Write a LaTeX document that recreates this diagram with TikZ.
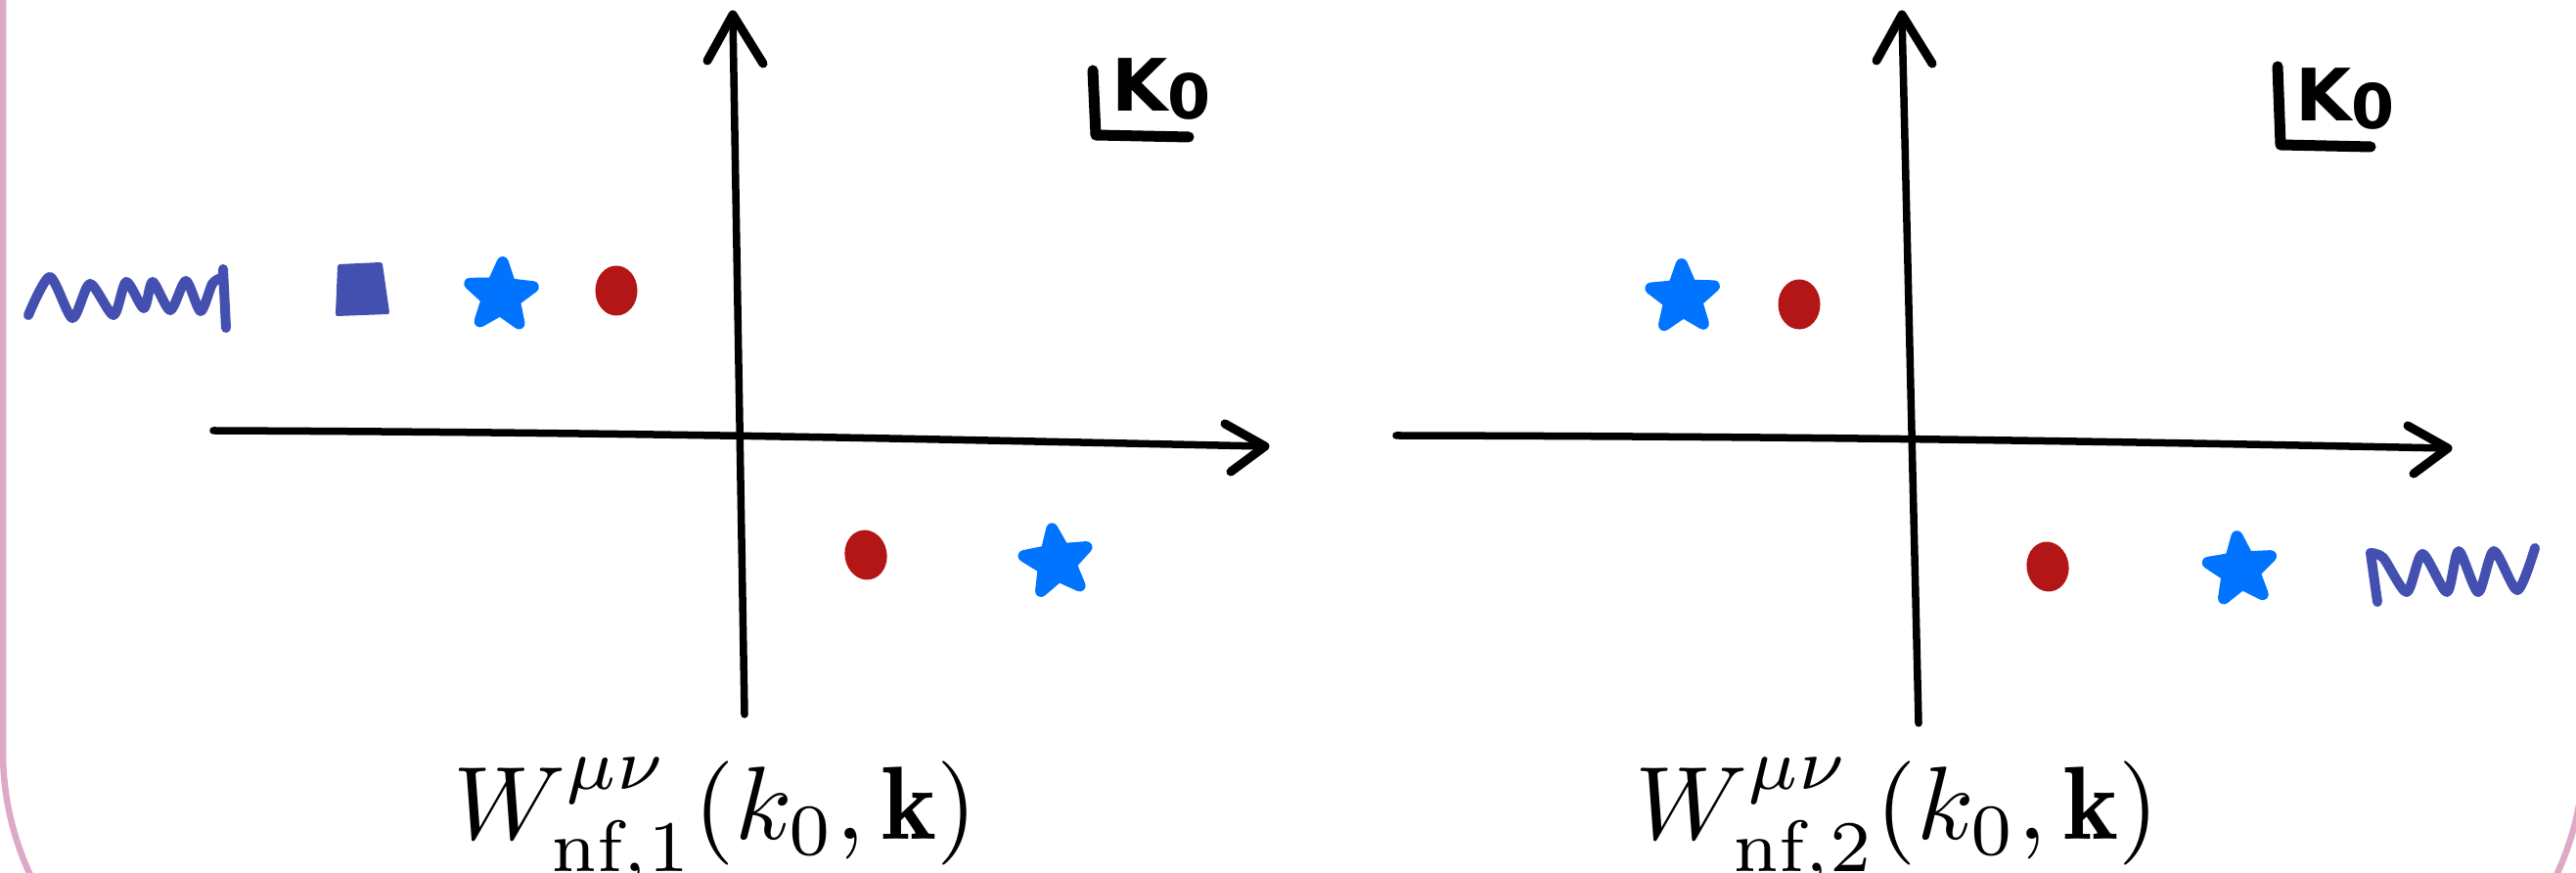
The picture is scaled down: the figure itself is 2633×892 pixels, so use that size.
\documentclass[tikz,border=0pt]{standalone}
\usepackage{fontspec}
\newfontfamily\handfont{DejaVu Sans}
\usetikzlibrary{shapes.geometric}
\definecolor{wavy}{RGB}{68,80,176}
\definecolor{starblue}{RGB}{0,115,255}
\definecolor{dotred}{RGB}{179,22,22}
\definecolor{framepink}{RGB}{220,170,200}
\tikzset{
  axisline/.style={line width=0.075cm, line cap=round, line join=round},
  barb/.style={line width=0.09cm, line cap=round, line join=round},
  wave/.style={wavy, line width=0.1cm, line cap=round, line join=round},
  bstar/.style={star, star points=5, star point ratio=2.3, minimum size=0.68cm, inner sep=0pt,
    fill=starblue, draw=starblue, line width=0.12cm, line join=round},
  rdot/.style={ellipse, fill=dotred, inner sep=0pt, minimum width=0.43cm, minimum height=0.51cm},
  kline/.style={line width=0.11cm, line cap=round, line join=round},
  klabel/.style={anchor=base west, inner sep=0pt, font=\handfont\bfseries\fontsize{21}{21}\selectfont},
  wlabel/.style={anchor=base, inner sep=0pt}
}
\begin{document}
\begin{tikzpicture}[x=0.01cm,y=-0.01cm]
\useasboundingbox (0,0) rectangle (2633,892);
\clip (0,0) rectangle (2633,892);
% frame
\draw[framepink, line width=0.065cm, rounded corners=2.98cm] (3,-400) rectangle (2641,1066);

% ---------- left panel ----------
\coordinate (ly-top) at (749,15);
\coordinate (ly-bot) at (761,730);
\coordinate (ly-b1) at (723,62);
\coordinate (ly-b2) at (780,65);
\draw[axisline] (ly-bot) -- (ly-top);
\draw[barb] (ly-b1) -- (ly-top) -- (ly-b2);
\coordinate (lx-left) at (218,440);
\coordinate (lx-tip) at (1293,456);
\coordinate (lx-b1) at (1252,433);
\coordinate (lx-b2) at (1258,482);
\draw[axisline] (lx-left) .. controls (700,442) and (1000,450) .. (lx-tip);
\draw[barb] (lx-b1) -- (lx-tip) -- (lx-b2);

% wiggle + tick
\draw[wave] plot[smooth, tension=0.45] coordinates {(29,322) (51,283) (74,325) (92,290) (116,322) (129,288) (147,315) (156,288) (174,317) (190,287) (205,318) (217,290) (226,284)};
\coordinate (lt-top) at (228,275);
\coordinate (lt-bot) at (231,335);
\draw[wave] (lt-top) -- (lt-bot);
% square
\filldraw[wavy, line width=0.04cm, line join=round] (347,272) -- (389,270) -- (396,319) -- (345,321) -- cycle;
% star, dots
\node[bstar, rotate=-3] (ls1) at (512,302) {};
\node[rdot] (ld1) at (630,297) {};
\node[rdot, rotate=10] (ld2) at (885,567) {};
\node[bstar, rotate=8] (ls2) at (1080,574) {};

% k0 label
\coordinate (lk-a) at (1117,72);
\coordinate (lk-b) at (1120,138);
\coordinate (lk-c) at (1215,140);
\draw[kline] (lk-a) -- (lk-b) -- (lk-c);
\node[klabel] (lk) at (1136,114) {K\raisebox{-0.1em}{\fontsize{18}{18}\selectfont 0}};

\node[wlabel] (lab1) at (731,858) {\scalebox{3.02}{$W^{\mu\nu}_{\mathrm{nf},1}(k_0,\mathbf{k})$}};

% ---------- right panel ----------
\coordinate (ry-top) at (1944,15);
\coordinate (ry-bot) at (1961,739);
\coordinate (ry-b1) at (1918,62);
\coordinate (ry-b2) at (1975,65);
\draw[axisline] (ry-bot) -- (ry-top);
\draw[barb] (ry-b1) -- (ry-top) -- (ry-b2);
\coordinate (rx-left) at (1427,445);
\coordinate (rx-tip) at (2502,458);
\coordinate (rx-b1) at (2461,435);
\coordinate (rx-b2) at (2467,484);
\draw[axisline] (rx-left) .. controls (1900,446) and (2200,452) .. (rx-tip);
\draw[barb] (rx-b1) -- (rx-tip) -- (rx-b2);

\node[bstar, rotate=2] (rs1) at (1720,304) {};
\node[rdot] (rd1) at (1839,311) {};
\node[rdot, rotate=8] (rd2) at (2093,579) {};
\node[bstar, rotate=6] (rs2) at (2290,582) {};

% wiggle right
\coordinate (rt-bot) at (2430,615);
\coordinate (rt-top) at (2423,565);
\draw[wave] (rt-bot) -- (rt-top);
\draw[wave] plot[smooth, tension=0.45] coordinates {(2423,565) (2436,570) (2460,605) (2476,566) (2501,605) (2513,563) (2533,605) (2549,563) (2573,603) (2591,560)};

% k0 label right
\coordinate (rk-a) at (2328,68);
\coordinate (rk-b) at (2331,148);
\coordinate (rk-c) at (2423,150);
\draw[kline] (rk-a) -- (rk-b) -- (rk-c);
\node[klabel] (rk) at (2346,124) {K\raisebox{-0.1em}{\fontsize{18}{18}\selectfont 0}};

\node[wlabel] (lab2) at (1939,858) {\scalebox{3.02}{$W^{\mu\nu}_{\mathrm{nf},2}(k_0,\mathbf{k})$}};
\end{tikzpicture}
\end{document}
